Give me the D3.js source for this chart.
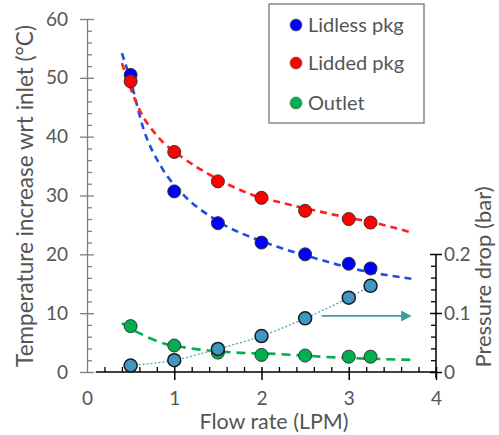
<!DOCTYPE html>
<html>
<head>
<meta charset="utf-8">
<script src="https://cdn.jsdelivr.net/npm/d3@7"></script>
<style>
  body { margin: 0; background: #fff; }
  svg { font-family: Lato, "Open Sans", sans-serif; }
  .lbl { fill: #555; }
</style>
</head>
<body>
<svg id="chart" width="499" height="435"></svg>
<script>
// measured points
const flow = [0.5, 1, 1.5, 2, 2.5, 3, 3.25];
const lidless = [50.5, 30.7, 25.3, 22.0, 20.0, 18.4, 17.6];
const lidded = [49.4, 37.4, 32.4, 29.6, 27.4, 26.0, 25.4];
const outlet = [7.8, 4.5, 3.3, 2.9, 2.8, 2.6, 2.6];
const pressure = [0.011, 0.020, 0.039, 0.061, 0.091, 0.126, 0.146];

// dashed trend lines
const lidlessFitX = [0.40, 0.5, 0.65, 0.85, 1.1, 1.45, 2.1, 2.6, 3.1, 3.75];
const lidlessFitY = [54.2, 49.5, 41.2, 34.9, 30.2, 26.1, 21.7, 19.4, 17.4, 15.8];
const liddedFitX = [0.40, 0.6, 0.8, 1.1, 1.4, 1.9, 2.25, 2.75, 3.45, 3.7];
const liddedFitY = [52.5, 44.6, 40.2, 36.4, 33.6, 30.1, 28.7, 27.0, 24.8, 23.8];
const outletFitX = [0.40, 0.6, 0.85, 1.2, 1.65, 2.2, 2.75, 3.75];
const outletFitY = [8.3, 6.6, 5.0, 4.0, 3.35, 3.05, 2.55, 2.05];

const seriesNames = ['Lidless pkg', 'Lidded pkg', 'Outlet'];
const seriesColors = ['#0000ff', '#ff0000', '#00b050'];
const fitColors = ['#1f4fe0', '#ff2020', '#00b050'];

const xTicks = [0, 1, 2, 3, 4];
const yTicks = [0, 10, 20, 30, 40, 50, 60];
const y2Ticks = [0, 0.1, 0.2];

let svg = d3.select('#chart');

let x = d3.scaleLinear().domain([0, 4]).range([87, 436]);
let y = d3.scaleLinear().domain([0, 60]).range([372, 19]);
let y2 = d3.scaleLinear().domain([0, 0.2]).range([372, 254]);

// left axis (gray)
let left = svg.append('g').attr('transform', `translate(${x(0)},0)`);
left.call(d3.axisLeft(y).tickValues(yTicks).tickSizeInner(7).tickSizeOuter(0).tickPadding(12));
left.selectAll('.tick line').attr('x1', 7);
let lMinor = left.append('g')
    .call(d3.axisLeft(y).tickValues(d3.range(2, 60, 2).filter(d => d % 10)).tickSize(-5).tickFormat(''));
lMinor.select('path.domain').remove();
left.selectAll('path.domain').attr('stroke', '#808080').attr('stroke-width', 1.3);
left.selectAll('line').attr('stroke', '#808080').attr('stroke-width', 1.3);

// bottom axis (black)
let bottom = svg.append('g').attr('transform', `translate(0,${y(0)})`);
bottom.append('line')
    .attr('x1', x(0.1)).attr('x2', x(4))
    .attr('stroke', '#000').attr('stroke-width', 1.5);
bottom.call(d3.axisBottom(x).tickValues(xTicks).tickSizeInner(8).tickSizeOuter(0).tickPadding(12)
    .tickFormat(d3.format('d')));
bottom.select('path.domain').remove();
bottom.selectAll('.tick line').attr('y1', -5).attr('stroke-width', 1.5)
    .filter(d => d === 0).remove();
let bMinor = bottom.append('g')
    .call(d3.axisBottom(x).tickValues(d3.range(2, 40, 2).map(d => d / 10).filter(d => d % 1)).tickSize(-5).tickFormat(''));
bMinor.select('path.domain').remove();
bMinor.selectAll('line').attr('stroke-width', 1.3);

// right axis (black)
let right = svg.append('g').attr('transform', `translate(${x(4)},0)`);
right.append('line')
    .attr('y1', y2(0.2)).attr('y2', y2(0) + 6)
    .attr('stroke', '#000').attr('stroke-width', 1.5);
right.call(d3.axisRight(y2).tickValues(y2Ticks).tickSizeInner(6).tickSizeOuter(0).tickPadding(2)
    .tickFormat(d => d === 0 ? '0' : d3.format('.1f')(d)));
right.select('path.domain').remove();
right.selectAll('.tick line').attr('x1', -6).attr('stroke-width', 1.5);
let rMinor = right.append('g')
    .call(d3.axisRight(y2).tickValues(d3.range(2, 20, 2).map(d => d / 100).filter(d => d !== 0.1)).tickSize(-5).tickFormat(''));
rMinor.select('path.domain').remove();
rMinor.selectAll('line').attr('stroke-width', 1.3);

svg.selectAll('.tick text')
    .attr('class', 'lbl')
    .style('font-family', 'Lato, sans-serif')
    .style('font-size', '19px');

// axis titles
svg.append('text').attr('class', 'lbl')
    .attr('transform', `translate(33,196) rotate(-90)`)
    .attr('text-anchor', 'middle')
    .style('font-size', '22.5px')
    .text('Temperature increase wrt inlet (°C)');

svg.append('text').attr('class', 'lbl')
    .attr('transform', `translate(491,277) rotate(-90)`)
    .attr('text-anchor', 'middle')
    .style('font-size', '22px')
    .text('Pressure drop (bar)');

svg.append('text').attr('class', 'lbl')
    .attr('x', 274).attr('y', 429)
    .attr('text-anchor', 'middle')
    .style('font-size', '21.5px')
    .text('Flow rate (LPM)');

// trend lines
let line = d3.line().x(d => x(d[0])).y(d => y(d[1])).curve(d3.curveMonotoneX);
let fits = [
    d3.zip(lidlessFitX, lidlessFitY),
    d3.zip(liddedFitX, liddedFitY),
    d3.zip(outletFitX, outletFitY)
];
fits.forEach((f, i) => {
    svg.append('path')
        .attr('d', line(f))
        .attr('fill', 'none')
        .attr('stroke', fitColors[i])
        .attr('stroke-width', 2.6)
        .attr('stroke-dasharray', i === 2 ? '9,6' : '7,5');
});

// pressure drop line + arrow
let pLine = d3.line().x(d => x(d[0])).y(d => y2(d[1])).curve(d3.curveMonotoneX);
svg.append('path')
    .attr('d', pLine(d3.zip(flow, pressure)))
    .attr('fill', 'none')
    .attr('stroke', '#4aa5b5')
    .attr('stroke-width', 1.3)
    .attr('stroke-dasharray', '2,2');

svg.append('line')
    .attr('x1', x(2.69)).attr('x2', x(3.62))
    .attr('y1', y2(0.095)).attr('y2', y2(0.095))
    .attr('stroke', '#3d9c9e').attr('stroke-width', 1.8);
svg.append('path')
    .attr('d', d3.line()([[x(3.6), y2(0.095) - 5.5], [x(3.72), y2(0.095)], [x(3.6), y2(0.095) + 5.5]]))
    .attr('fill', '#3d9c9e');

// points
[lidless, lidded, outlet].forEach((vals, i) => {
    svg.append('g').selectAll('circle')
        .data(d3.zip(flow, vals))
        .join('circle')
        .attr('cx', d => x(d[0]))
        .attr('cy', d => y(d[1]))
        .attr('r', 6.5)
        .attr('fill', seriesColors[i])
        .attr('stroke', '#333')
        .attr('stroke-width', 1);
});

svg.append('g').selectAll('circle')
    .data(d3.zip(flow, pressure))
    .join('circle')
    .attr('cx', d => x(d[0]))
    .attr('cy', d => y2(d[1]))
    .attr('r', 6.5)
    .attr('fill', '#3d98c4')
    .attr('stroke', '#1a1a1a')
    .attr('stroke-width', 1.5);

// legend
let legend = svg.append('g').attr('transform', 'translate(269,4)');
legend.append('rect')
    .attr('width', 155).attr('height', 119)
    .attr('fill', '#fff')
    .attr('stroke', '#777').attr('stroke-width', 1.3);
let item = legend.selectAll('g.item')
    .data(seriesNames)
    .join('g')
    .attr('class', 'item')
    .attr('transform', (d, i) => `translate(0,${[21, 59, 99][i]})`);
item.append('circle')
    .attr('cx', 27).attr('r', 6)
    .attr('fill', (d, i) => seriesColors[i])
    .attr('stroke', '#555').attr('stroke-width', 0.6);
item.append('text').attr('class', 'lbl')
    .attr('x', 39).attr('dy', '0.35em')
    .style('font-size', '20px')
    .text(d => d);
</script>
</body>
</html>
